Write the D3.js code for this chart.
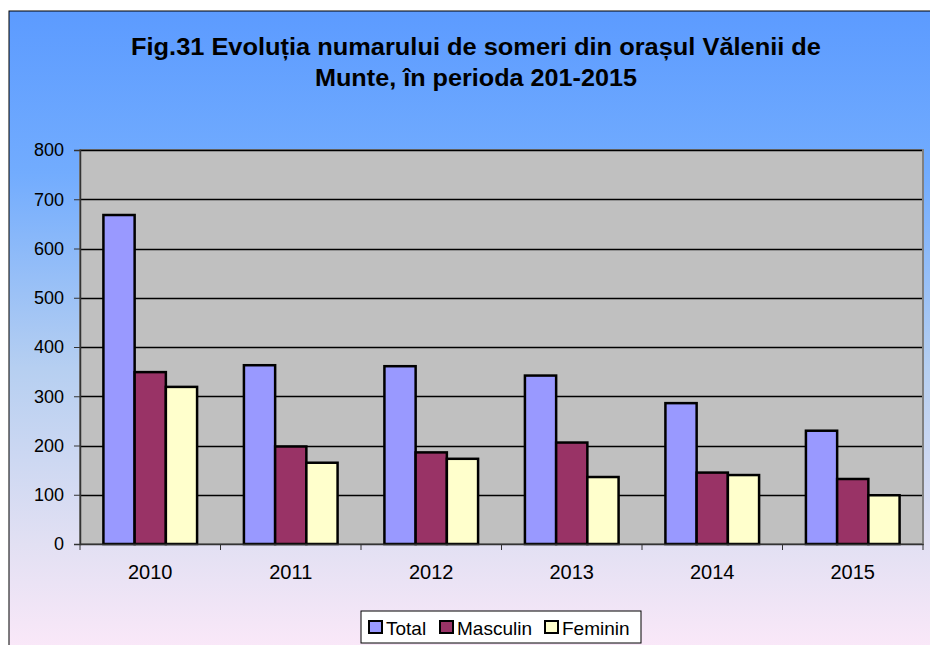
<!DOCTYPE html>
<html>
<head>
<meta charset="utf-8">
<script src="https://cdn.jsdelivr.net/npm/d3@7"></script>
<style>
body{margin:0;background:#fff;}
svg{display:block;font-family:"Liberation Sans",Arial,sans-serif;}
</style>
</head>
<body>
<script>
var width=930, height=645;

var years = ["2010","2011","2012","2013","2014","2015"];
var seriesNames = ["Total","Masculin","Feminin"];
var total = [668, 363, 361, 342, 286, 230];
var masculin = [349, 198, 186, 206, 145, 132];
var feminin = [319, 165, 173, 136, 140, 99];
var yTicks = [0,100,200,300,400,500,600,700,800];
var colors = ["#9999ff","#993366","#ffffcc"];

var series = [total, masculin, feminin];

var svg = d3.select("body").append("svg")
    .attr("width", width)
    .attr("height", height);

var defs = svg.append("defs");
var grad = defs.append("linearGradient").attr("id","bg")
    .attr("x1",0).attr("y1",0).attr("x2",0).attr("y2",1);
[[0,"#5c9bff"],[0.25,"#72acfe"],[0.55,"#b6cff1"],[0.82,"#e2e0f3"],[1,"#fde9f9"]].forEach(function(s){
    grad.append("stop").attr("offset",s[0]).attr("stop-color",s[1]);
});

// chart frame
svg.append("rect").attr("x",10).attr("y",12).attr("width",930).attr("height",650)
    .attr("fill","#999");
svg.append("rect").attr("x",9).attr("y",11).attr("width",930).attr("height",650)
    .attr("fill","url(#bg)").attr("stroke","#000").attr("stroke-width",1);

// title
var title = svg.append("text").attr("text-anchor","middle")
    .attr("font-weight","bold").attr("font-size",23).attr("fill","#000");
title.append("tspan").attr("x",476).attr("y",55)
    .attr("textLength",690).attr("lengthAdjust","spacingAndGlyphs")
    .text("Fig.31 Evoluția numarului de someri din orașul Vălenii de");
title.append("tspan").attr("x",476).attr("y",86)
    .attr("textLength",322).attr("lengthAdjust","spacingAndGlyphs")
    .text("Munte, în perioda 201-2015");

var plot = {left:80, top:150, right:923, bottom:544};

var x0 = d3.scaleBand().domain(years).range([plot.left, plot.right]).paddingInner(0).paddingOuter(0);
var barW = x0.bandwidth()/4.5;
var x1 = d3.scaleBand().domain(seriesNames).range([0, barW*3]);
var y = d3.scaleLinear().domain([0,800]).range([plot.bottom, plot.top]);

svg.append("rect").attr("x",plot.left).attr("y",plot.top)
    .attr("width",plot.right-plot.left).attr("height",plot.bottom-plot.top)
    .attr("fill","#c0c0c0").attr("stroke","#808080").attr("stroke-width",2);

// gridlines
svg.append("g").selectAll("line").data(yTicks.slice(1)).enter().append("line")
    .attr("x1",plot.left).attr("x2",plot.right-1)
    .attr("y1",function(d){return Math.round(y(d))+0.5;})
    .attr("y2",function(d){return Math.round(y(d))+0.5;})
    .attr("stroke","#000").attr("stroke-width",1.3);

// bars
var groups = svg.append("g").selectAll("g").data(years).enter().append("g")
    .attr("transform",function(d){return "translate("+(x0(d)+barW*0.75)+",0)";});
groups.selectAll("rect").data(function(d,i){
        return seriesNames.map(function(s,j){return {s:s, v:series[j][i], c:colors[j]};});
    }).enter().append("rect")
    .attr("x",function(d){return x1(d.s);})
    .attr("y",function(d){return y(d.v);})
    .attr("width",barW)
    .attr("height",function(d){return y(0)-y(d.v);})
    .attr("fill",function(d){return d.c;})
    .attr("stroke","#000").attr("stroke-width",2.5);

// y axis
var yAxis = svg.append("g").attr("transform","translate("+plot.left+",0)")
    .call(d3.axisLeft(y).tickValues(yTicks).tickSize(6).tickPadding(10).tickFormat(d3.format("d")));
yAxis.select(".domain").attr("stroke","#333").attr("stroke-width",1.5);
yAxis.selectAll(".tick line").attr("stroke","#333");
yAxis.selectAll("text").attr("font-size",18).attr("fill","#000")
    .attr("font-family","'Liberation Sans',Arial,sans-serif");

// x axis
var xAxis = svg.append("g").attr("transform","translate(0,"+plot.bottom+")")
    .call(d3.axisBottom(x0).tickSize(0).tickPadding(21));
xAxis.select(".domain").attr("stroke","#333").attr("stroke-width",1.5);
xAxis.selectAll("text").attr("font-size",20).attr("fill","#000")
    .attr("font-family","'Liberation Sans',Arial,sans-serif");
xAxis.selectAll(".sep").data(years.concat(["end"])).enter().append("line")
    .attr("class","sep")
    .attr("x1",function(d,i){return plot.left + i*x0.bandwidth();})
    .attr("x2",function(d,i){return plot.left + i*x0.bandwidth();})
    .attr("y1",0).attr("y2",6).attr("stroke","#333");

// legend
var lg = svg.append("g").attr("transform","translate(361,611)");
lg.append("rect").attr("width",280).attr("height",32).attr("fill","#fff").attr("stroke","#000");
var lx = [8, 79, 184];
seriesNames.forEach(function(s,i){
    lg.append("rect").attr("x",lx[i]).attr("y",10).attr("width",13).attr("height",12)
        .attr("fill",colors[i]).attr("stroke","#000").attr("stroke-width",2);
    lg.append("text").attr("x",lx[i]+17).attr("y",24).attr("font-size",19).text(s);
});
</script>
</body>
</html>
